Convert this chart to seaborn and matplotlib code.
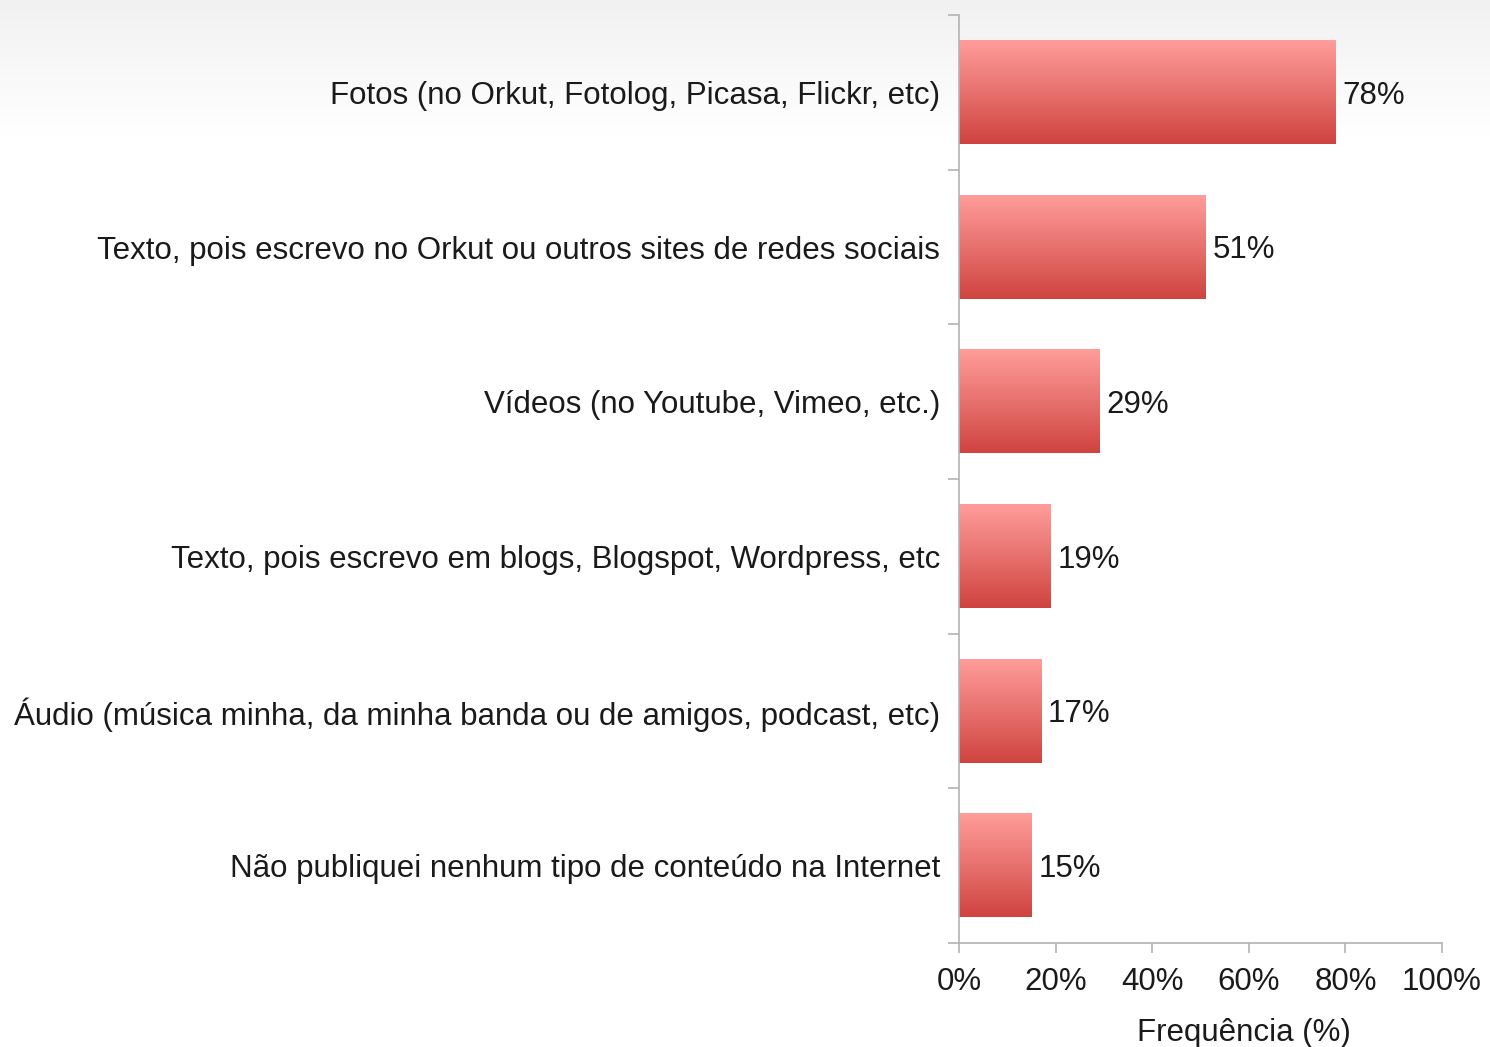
import numpy as np
import pandas as pd
import matplotlib
matplotlib.use("Agg")
import matplotlib.pyplot as plt
from matplotlib.colors import LinearSegmentedColormap
from matplotlib.ticker import FixedLocator, PercentFormatter
import seaborn as sns

# ----------------------------
# Data
# ----------------------------
categories = [
    "Fotos (no Orkut, Fotolog, Picasa, Flickr, etc)",
    "Texto, pois escrevo no Orkut ou outros sites de redes sociais",
    "Vídeos (no Youtube, Vimeo, etc.)",
    "Texto, pois escrevo em blogs, Blogspot, Wordpress, etc",
    "Áudio (música minha, da minha banda ou de amigos, podcast, etc)",
    "Não publiquei nenhum tipo de conteúdo na Internet",
]
values = [78, 51, 29, 19, 17, 15]
x_ticks = [0, 20, 40, 60, 80, 100]

df = pd.DataFrame({"Categoria": categories, "Freq": values})

# ----------------------------
# Style
# ----------------------------
sns.set_style("white")
plt.rcParams["font.family"] = ["Liberation Sans", "DejaVu Sans"]
text_color = "#1a1a1a"
spine_color = "#b3b3b3"
fs = 22.5

fig = plt.figure(figsize=(14.9, 10.47), dpi=100)

# background gradient at top of figure
bg = fig.add_axes([0, 0, 1, 1], zorder=-10)
bg.axis("off")
grad = np.linspace(0, 1, 256).reshape(-1, 1)
bg_cmap = LinearSegmentedColormap.from_list("bg", ["#f1f1f1", "#ffffff"])
bg.imshow(grad, cmap=bg_cmap, aspect="auto", extent=[0, 1, 1 - 135 / 1047, 1])
bg.set_xlim(0, 1)
bg.set_ylim(0, 1)

ax = fig.add_axes([959 / 1490, 104 / 1047, 483 / 1490, 928 / 1047])
ax.patch.set_alpha(0)

sns.barplot(data=df, x="Freq", y="Categoria", ax=ax, color="#e06060", width=0.67)

# gradient fill for each bar
bar_cmap = LinearSegmentedColormap.from_list("bar", ["#ff9d9a", "#e7716e", "#cf433f"])
for p in ax.patches:
    x0, y0 = p.get_x(), p.get_y()
    w, h = p.get_width(), p.get_height()
    ax.imshow(grad, cmap=bar_cmap, aspect="auto", extent=[x0, x0 + w, y0 + h, y0],
              zorder=2, interpolation="bilinear")
    p.set_facecolor("none")
    p.set_edgecolor("none")

ax.set_xlim(0, 100)
ax.set_ylim(5.5, -0.5)

labels = ax.bar_label(ax.containers[0], labels=[f"{v}%" for v in values], padding=5,
                      fontsize=fs, color=text_color)
for t in labels:
    t.set_va("center_baseline")

# axes styling
for s in ["top", "right"]:
    ax.spines[s].set_visible(False)
for s in ["left", "bottom"]:
    ax.spines[s].set_color(spine_color)
    ax.spines[s].set_linewidth(1.2)

ax.set_xticks(x_ticks)
ax.xaxis.set_major_formatter(PercentFormatter(decimals=0))
ax.tick_params(axis="x", length=7.5, width=1.2, color=spine_color, labelsize=fs,
               labelcolor=text_color, pad=10, direction="out", bottom=True)

ax.tick_params(axis="y", which="major", length=0, pad=13.5, labelsize=fs,
               labelcolor=text_color, left=False)
ax.yaxis.set_minor_locator(FixedLocator(np.arange(-0.5, len(categories), 1.0)))
ax.tick_params(axis="y", which="minor", length=8, width=1.2, color=spine_color,
               direction="out", left=True)

ax.set_ylabel("")
ax.set_xlabel("Frequência (%)", fontsize=fs, color=text_color)
ax.xaxis.set_label_coords(0.59, -0.081)

fig.savefig("out.png", dpi=100)
